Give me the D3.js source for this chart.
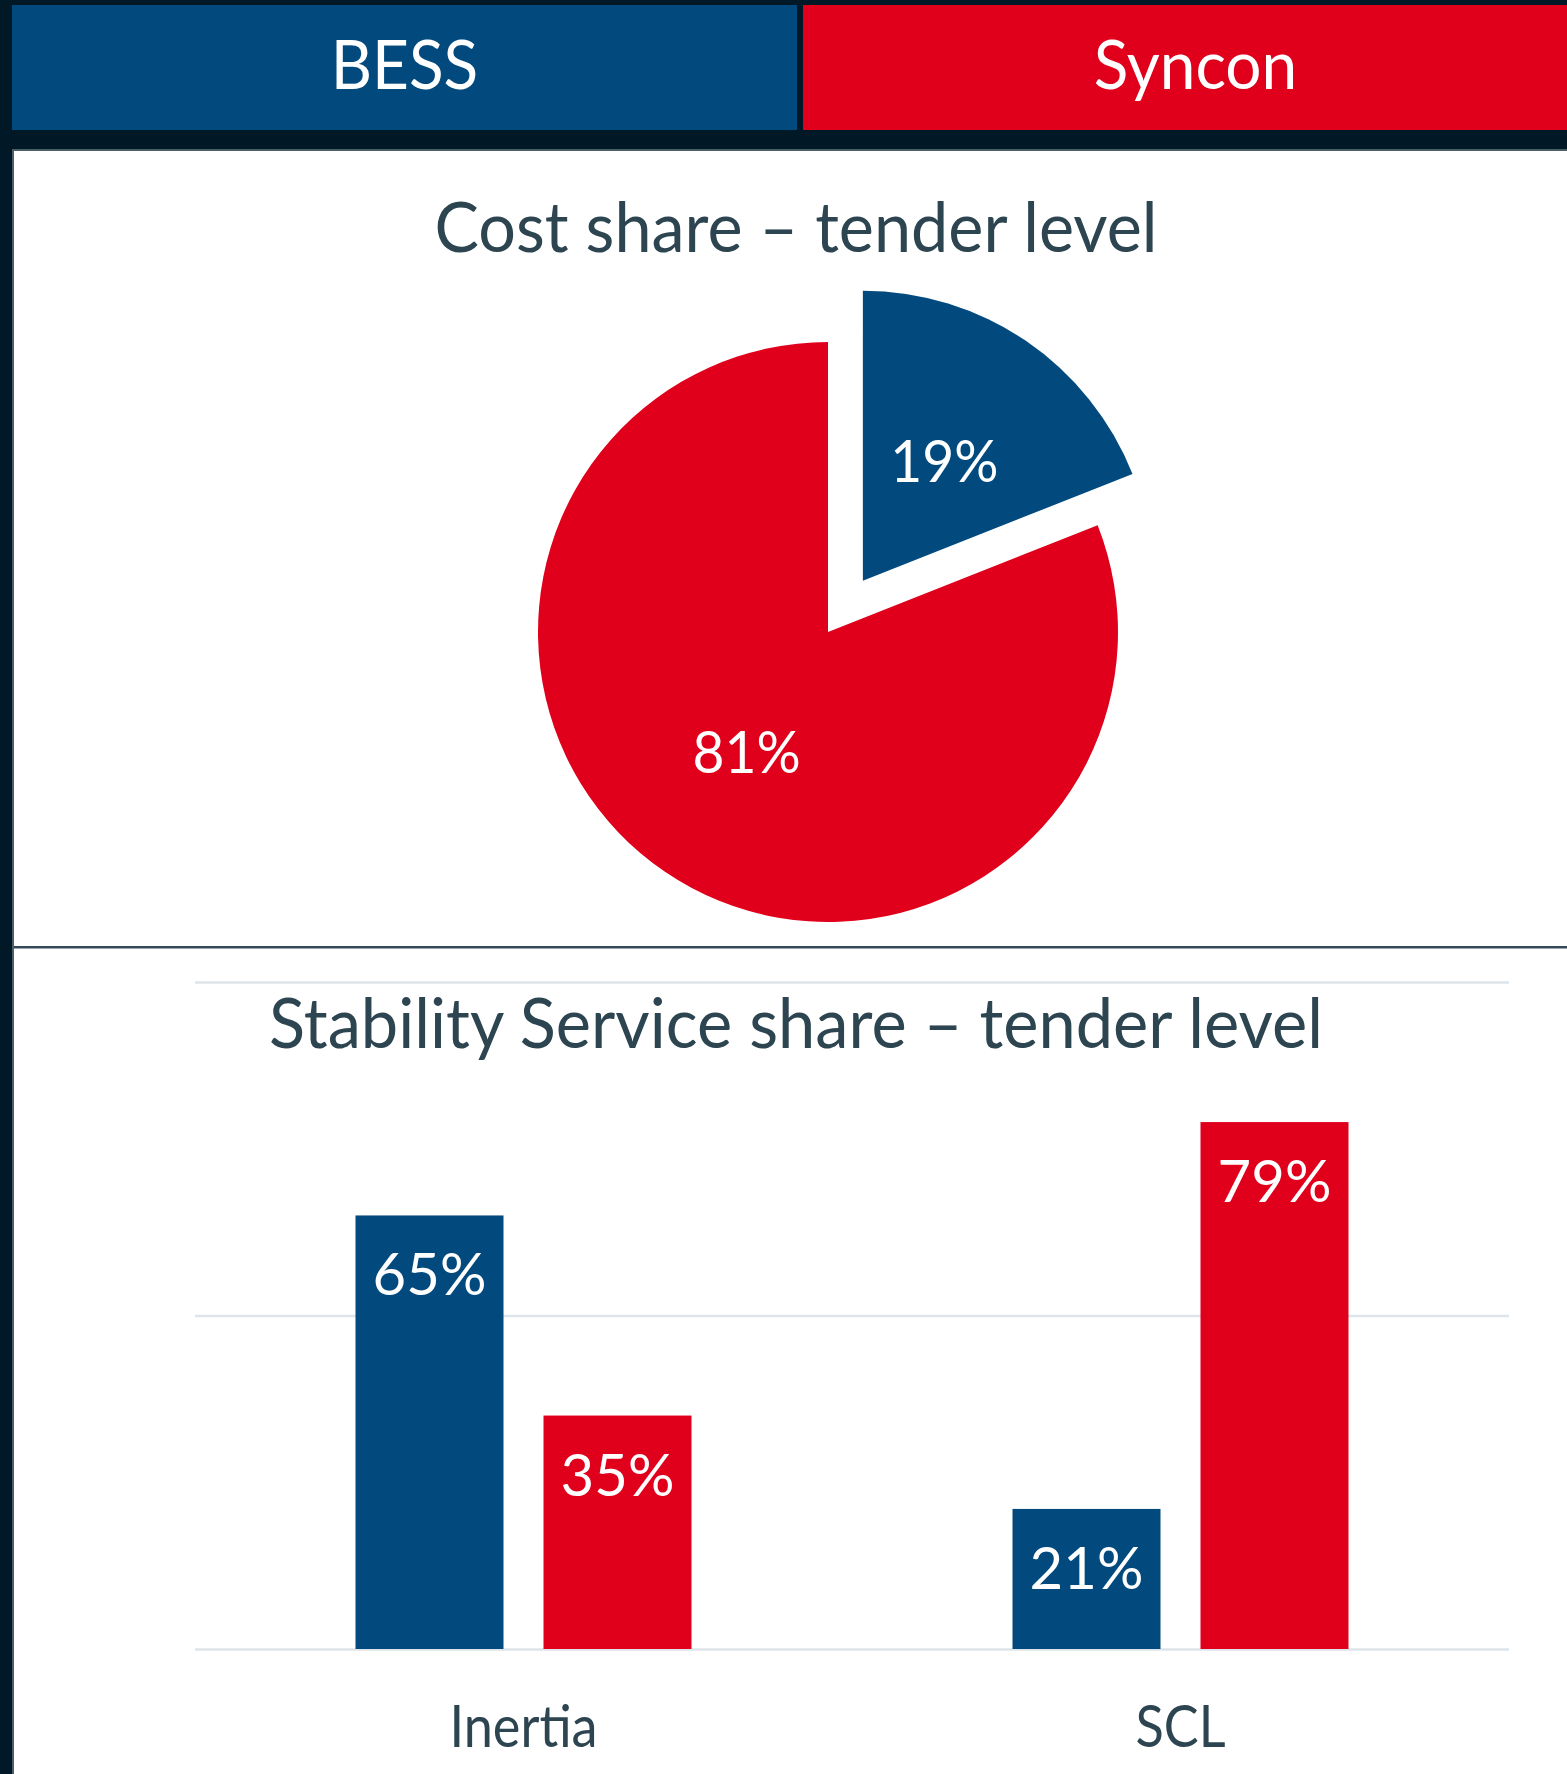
<!DOCTYPE html>
<html>
<head>
<meta charset="utf-8">
<script src="https://cdn.jsdelivr.net/npm/d3@7"></script>
<style>
    body { margin: 0; background: #011827; }
    svg { display: block; }
    text { font-family: Lato, "Noto Sans", sans-serif; }
</style>
</head>
<body>
<main></main>
<script>
// header series
const seriesNames = ['BESS', 'Syncon'];
const seriesColors = ['#024a7e', '#e0001b'];

// pie: cost share
const pieTitle = 'Cost share – tender level';
const costShare = [19, 81];

// bars: stability service share
const barTitle = 'Stability Service share – tender level';
const categories = ['Inertia', 'SCL'];
const bessShare = [65, 21];
const synconShare = [35, 79];
const gridTicks = [0, 50, 100];

const w = 1567;
const h = 1774;
const svg = d3.select('main').append('svg').attr('width', w).attr('height', h);
const textColor = '#2d4550';

// squeeze Lato a little so it runs as narrow as the original face
function condense(sel, f) {
    sel.each(function () {
        const len = this.getComputedTextLength();
        d3.select(this).attr('textLength', len * f).attr('lengthAdjust', 'spacingAndGlyphs');
    });
}

// background and panel
svg.append('rect').attr('width', w).attr('height', h).attr('fill', '#011827');
svg.append('rect').attr('x', 12).attr('y', 149).attr('width', w - 12).attr('height', h - 149)
    .attr('fill', '#4b5f69');
svg.append('rect').attr('x', 14).attr('y', 151).attr('width', w - 14).attr('height', h - 151)
    .attr('fill', '#ffffff');

// header boxes
const hx = d3.scaleBand().domain(seriesNames).range([12, 1588]).paddingInner(6 / 791);
svg.selectAll('.hbox').data(seriesNames).enter().append('rect')
    .attr('class', 'hbox')
    .attr('x', d => hx(d))
    .attr('y', 5)
    .attr('width', hx.bandwidth())
    .attr('height', 125)
    .attr('fill', (d, i) => seriesColors[i]);
svg.selectAll('.htext').data(seriesNames).enter().append('text')
    .attr('class', 'htext')
    .attr('x', d => hx(d) + hx.bandwidth() / 2)
    .attr('y', 89)
    .attr('text-anchor', 'middle')
    .attr('fill', '#fff')
    .attr('font-size', 68)
    .text(d => d)
    .call(condense, 0.94);

// pie title
svg.append('text')
    .attr('x', 796).attr('y', 252)
    .attr('text-anchor', 'middle')
    .attr('fill', textColor)
    .attr('font-size', 70)
    .text(pieTitle)
    .call(condense, 0.95);

// pie
const cx = 828, cy = 632, r = 290, explode = 62;
const pie = d3.pie().sort(null).value(d => d);
const arcs = pie(costShare);
const arc = d3.arc().innerRadius(0).outerRadius(r);
const labelArc = d3.arc().innerRadius(145).outerRadius(145);
const pieG = svg.append('g').attr('transform', `translate(${cx},${cy})`);
const offset = d => {
    if (d.index !== 0) return [0, 0];
    const a = (d.startAngle + d.endAngle) / 2;
    return [Math.sin(a) * explode, -Math.cos(a) * explode];
};
pieG.selectAll('path').data(arcs).enter().append('path')
    .attr('d', arc)
    .attr('transform', d => `translate(${offset(d)})`)
    .attr('fill', (d, i) => seriesColors[i]);
pieG.selectAll('.plabel').data(arcs).enter().append('text')
    .attr('class', 'plabel')
    .attr('transform', d => {
        const c = labelArc.centroid(d);
        const o = offset(d);
        return `translate(${c[0] + o[0]},${c[1] + o[1]})`;
    })
    .attr('dy', '0.36em')
    .attr('text-anchor', 'middle')
    .attr('fill', '#fff')
    .attr('font-size', 58)
    .text(d => d.data + '%')
    .call(condense, 0.95);

// divider
svg.append('rect').attr('x', 14).attr('y', 946).attr('width', w - 14).attr('height', 2.5)
    .attr('fill', '#34495a');

// bar chart
const x0 = d3.scaleBand().domain(categories).range([195, 1509]);
const x1 = d3.scaleBand().domain(seriesNames).range([0, 336]).paddingInner(40 / 188);
const y = d3.scaleLinear().domain([0, 100]).range([1649, 982]);

const grid = svg.append('g')
    .attr('transform', 'translate(195,0)')
    .call(d3.axisLeft(y).tickValues(gridTicks).tickSize(-(1509 - 195)).tickFormat(''));
grid.select('.domain').remove();
grid.selectAll('line').attr('stroke', '#dde5ea').attr('stroke-width', 2.5);

svg.append('text')
    .attr('x', 796).attr('y', 1048)
    .attr('text-anchor', 'middle')
    .attr('fill', textColor)
    .attr('font-size', 70)
    .text(barTitle)
    .call(condense, 0.953);

const rows = categories.map((c, i) => ({ cat: c, vals: [bessShare[i], synconShare[i]] }));
const groups = svg.selectAll('.grp').data(rows).enter().append('g')
    .attr('class', 'grp')
    .attr('transform', d => `translate(${x0(d.cat) + x0.bandwidth() / 2 - 168},0)`);
const bars = groups.selectAll('g').data(d => d.vals.map((v, i) => ({ s: seriesNames[i], v: v, i: i })))
    .enter().append('g');
bars.append('rect')
    .attr('x', d => x1(d.s))
    .attr('y', d => y(d.v))
    .attr('width', x1.bandwidth())
    .attr('height', d => y(0) - y(d.v))
    .attr('fill', d => seriesColors[d.i]);
bars.append('text')
    .attr('x', d => x1(d.s) + x1.bandwidth() / 2)
    .attr('y', d => y(d.v) + 80)
    .attr('text-anchor', 'middle')
    .attr('fill', '#fff')
    .attr('font-size', 58)
    .text(d => d.v + '%');

const xAxis = svg.append('g')
    .attr('transform', 'translate(0,1649)')
    .call(d3.axisBottom(x0).tickSize(0).tickPadding(98));
xAxis.select('.domain').remove();
xAxis.selectAll('text')
    .attr('fill', textColor)
    .attr('font-size', 58)
    .attr('font-family', 'Lato, "Noto Sans", sans-serif')
    .attr('dy', 0)
    .call(condense, 0.9);
</script>
</body>
</html>
